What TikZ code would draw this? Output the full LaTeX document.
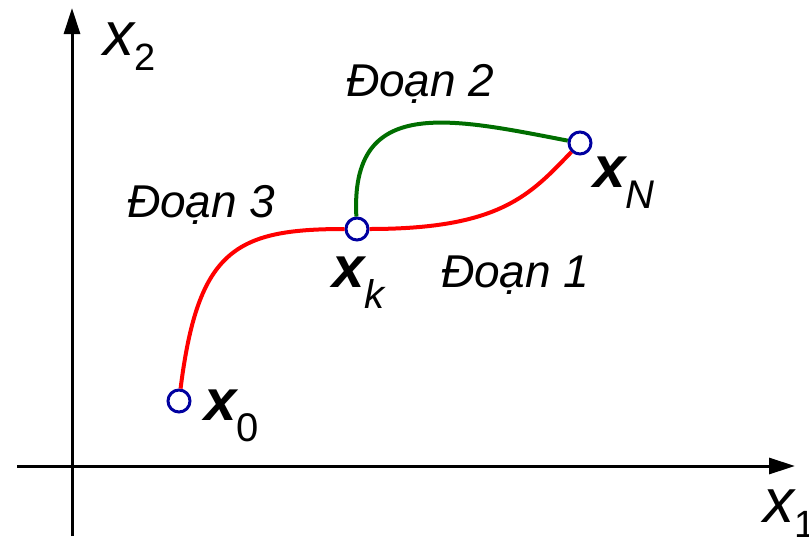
\documentclass[tikz,border=0pt]{standalone}
\usepackage{fontspec}
\setmainfont{Liberation Sans}
\usetikzlibrary{arrows.meta}
\usepackage{xcolor}
\definecolor{ptblue}{RGB}{0,0,160}
\definecolor{segred}{RGB}{255,0,0}
\definecolor{seggreen}{RGB}{0,110,0}
\newcommand{\bx}[1]{{\fontsize{58}{58}\selectfont\bfseries\itshape x}\raisebox{-21pt}{\fontsize{40}{40}\selectfont #1}}
\newcommand{\axlabel}[1]{{\fontsize{62}{62}\selectfont\itshape x}\raisebox{-15pt}{\fontsize{38}{38}\selectfont #1}}

\begin{document}
\begin{tikzpicture}[x=1pt,y=-1pt,
    pt/.style={circle,draw=ptblue,fill=white,line width=3pt,minimum size=22pt,inner sep=0pt},
    seg/.style={line width=4pt},
    lbl/.style={font=\fontsize{46}{46}\selectfont\itshape,inner sep=0pt,anchor=base west}]

        \useasboundingbox (0,0) rectangle (809,536);

        % Axes
        \coordinate (ybot) at (72,536);
        \coordinate (ytop) at (72,8);
        \coordinate (xleft) at (17,466);
        \coordinate (xright) at (795,466);
        \draw[line width=3pt,-{Triangle[length=26pt,width=16pt]}] (ybot) -- (ytop);
        \draw[line width=3pt,-{Triangle[length=26pt,width=16pt]}] (xleft) -- (xright);

        % Points
        \node[pt] (x0) at (179,401) {};
        \node[pt] (xk) at (357,229) {};
        \node[pt] (xN) at (580,143) {};

        % Segments
        \draw[seg,segred] (x0) .. controls (198,250) and (235,229) .. (xk);
        \draw[seg,segred] (xk) .. controls (500,229) and (530,195) .. (xN);
        \draw[seg,seggreen] (xk) .. controls (350,95) and (450,118) .. (xN);

        % Labels
        \node[lbl] (d1) at (441,287) {Đoạn 1};
        \node[lbl] (d2) at (346,96) {Đoạn 2};
        \node[lbl] (d3) at (127,217) {Đoạn 3};

        \node[anchor=base west,inner sep=0pt] (lx0) at (204,420) {\bx{0}};
        \node[anchor=base west,inner sep=0pt] (lxk) at (332,287) {\bx{\itshape k}};
        \node[anchor=base west,inner sep=0pt] (lxN) at (593,187) {\bx{\itshape N}};
        \node[anchor=base west,inner sep=0pt] (lx2) at (103,55) {\axlabel{2}};
        \node[anchor=base west,inner sep=0pt] (lx1) at (763,522) {\axlabel{1}};

    \end{tikzpicture}
\end{document}
